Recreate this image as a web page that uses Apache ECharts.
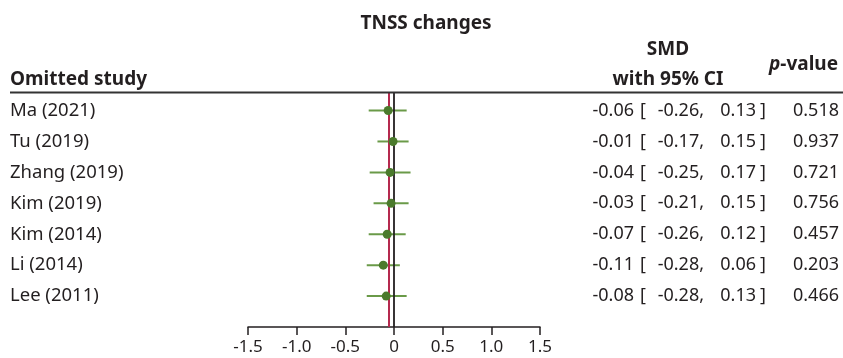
<!DOCTYPE html>
<html>
<head>
<meta charset="utf-8">
<script src="https://cdn.jsdelivr.net/npm/echarts@6/dist/echarts.min.js"></script>
<style>html,body{margin:0;padding:0;background:#fff}#c{width:843px;height:358px}</style>
</head>
<body>
<div id="c"></div>
<script>
const studies = ['Ma (2021)', 'Tu (2019)', 'Zhang (2019)', 'Kim (2019)', 'Kim (2014)', 'Li (2014)', 'Lee (2011)'];
const smd = [-0.06, -0.01, -0.04, -0.03, -0.07, -0.11, -0.08];
const ciLow = [-0.26, -0.17, -0.25, -0.21, -0.26, -0.28, -0.28];
const ciHigh = [0.13, 0.15, 0.17, 0.15, 0.12, 0.06, 0.13];
const pValues = ['0.518', '0.937', '0.721', '0.756', '0.457', '0.203', '0.466'];
const pooled = -0.05;
const xTickLabels = ['-1.5', '-1.0', '-0.5', '0', '0.5', '1.0', '1.5'];

const FONT = '"Noto Sans", "Open Sans", sans-serif';
const TXT = '#231f20';
const rows = studies.map((s, i) => i);
const fmt = v => v.toFixed(2);

const chart = echarts.init(document.getElementById('c'), null, {renderer: 'canvas'});

function txt(text, x, y, align, bold, size) {
  return {
    type: 'text',
    style: {
      text: text, x: x, y: y,
      textAlign: align, align: align,
      textVerticalAlign: 'middle', verticalAlign: 'middle',
      font: (bold ? 'bold ' : '') + (size || 18) + 'px ' + FONT,
      fill: TXT
    }
  };
}

chart.setOption({
  animation: false,
  grid: {left: 248, right: 303, top: 92, bottom: 31, containLabel: false},
  xAxis: {
    type: 'value', min: -1.5, max: 1.5, interval: 0.5,
    axisLine: {show: true, onZero: false, lineStyle: {color: '#231f20', width: 1.5}},
    axisTick: {show: true, length: 8, lineStyle: {color: '#231f20', width: 1.5}},
    splitLine: {show: false},
    axisLabel: {
      margin: 12, fontSize: 17, fontFamily: FONT, color: TXT,
      formatter: v => xTickLabels[Math.round((v + 1.5) / 0.5)]
    }
  },
  yAxis: {type: 'value', min: -0.6, max: 7, inverse: true, show: false},
  graphic: [
    {type: 'line', shape: {x1: 10, y1: 92.5, x2: 843, y2: 92.5}, style: {stroke: '#333', lineWidth: 2}, z: 10},
    txt('TNSS changes', 426, 24, 'center', true, 19),
    txt('Omitted study', 10, 80, 'left', true, 19),
    txt('SMD', 668, 50, 'center', true, 19),
    txt('with 95% CI', 668, 80, 'center', true, 19),
    {
      type: 'text',
      style: {
        text: '{p|p}{v|-value}', x: 838, y: 65,
        textAlign: 'right', align: 'right', textVerticalAlign: 'middle', verticalAlign: 'middle',
        fill: TXT,
        rich: {
          p: {fontStyle: 'italic', fontWeight: 'bold', fontSize: 19, fontFamily: FONT, color: TXT},
          v: {fontWeight: 'bold', fontSize: 19, fontFamily: FONT, color: TXT}
        }
      }
    }
  ],
  series: [
    {
      type: 'custom',
      name: 'ci',
      data: rows,
      clip: false,
      renderItem: function (params, api) {
        const i = api.value(0);
        const p1 = api.coord([ciLow[i], i]);
        const p2 = api.coord([ciHigh[i], i]);
        return {
          type: 'line',
          shape: {x1: p1[0], y1: p1[1], x2: p2[0], y2: p2[1]},
          style: {stroke: '#6a9a48', lineWidth: 2}
        };
      },
      z: 3,
      markLine: {
        symbol: 'none', silent: true, label: {show: false},
        data: [
          {xAxis: pooled, lineStyle: {color: '#b5294e', width: 2, type: 'solid'}},
          {xAxis: 0, lineStyle: {color: '#231f20', width: 1.8, type: 'solid'}}
        ]
      }
    },
    {
      type: 'scatter',
      data: rows.map(i => [smd[i], i]),
      symbol: 'circle', symbolSize: 9,
      itemStyle: {color: '#4b7a2c', opacity: 1},
      z: 5
    },
    {
      type: 'custom',
      name: 'text',
      data: rows,
      clip: false,
      renderItem: function (params, api) {
        const i = api.value(0);
        const y = api.coord([0, i])[1];
        return {
          type: 'group',
          children: [
            txt(studies[i], 10, y, 'left', false, 18.5),
            txt(fmt(smd[i]), 634, y, 'right', false),
            txt('[', 640, y, 'left', false),
            txt(fmt(ciLow[i]) + ',', 704, y, 'right', false),
            txt(fmt(ciHigh[i]), 756, y, 'right', false),
            txt(']', 760, y, 'left', false),
            txt(pValues[i], 839, y, 'right', false)
          ]
        };
      }
    }
  ]
});
</script>
</body>
</html>
